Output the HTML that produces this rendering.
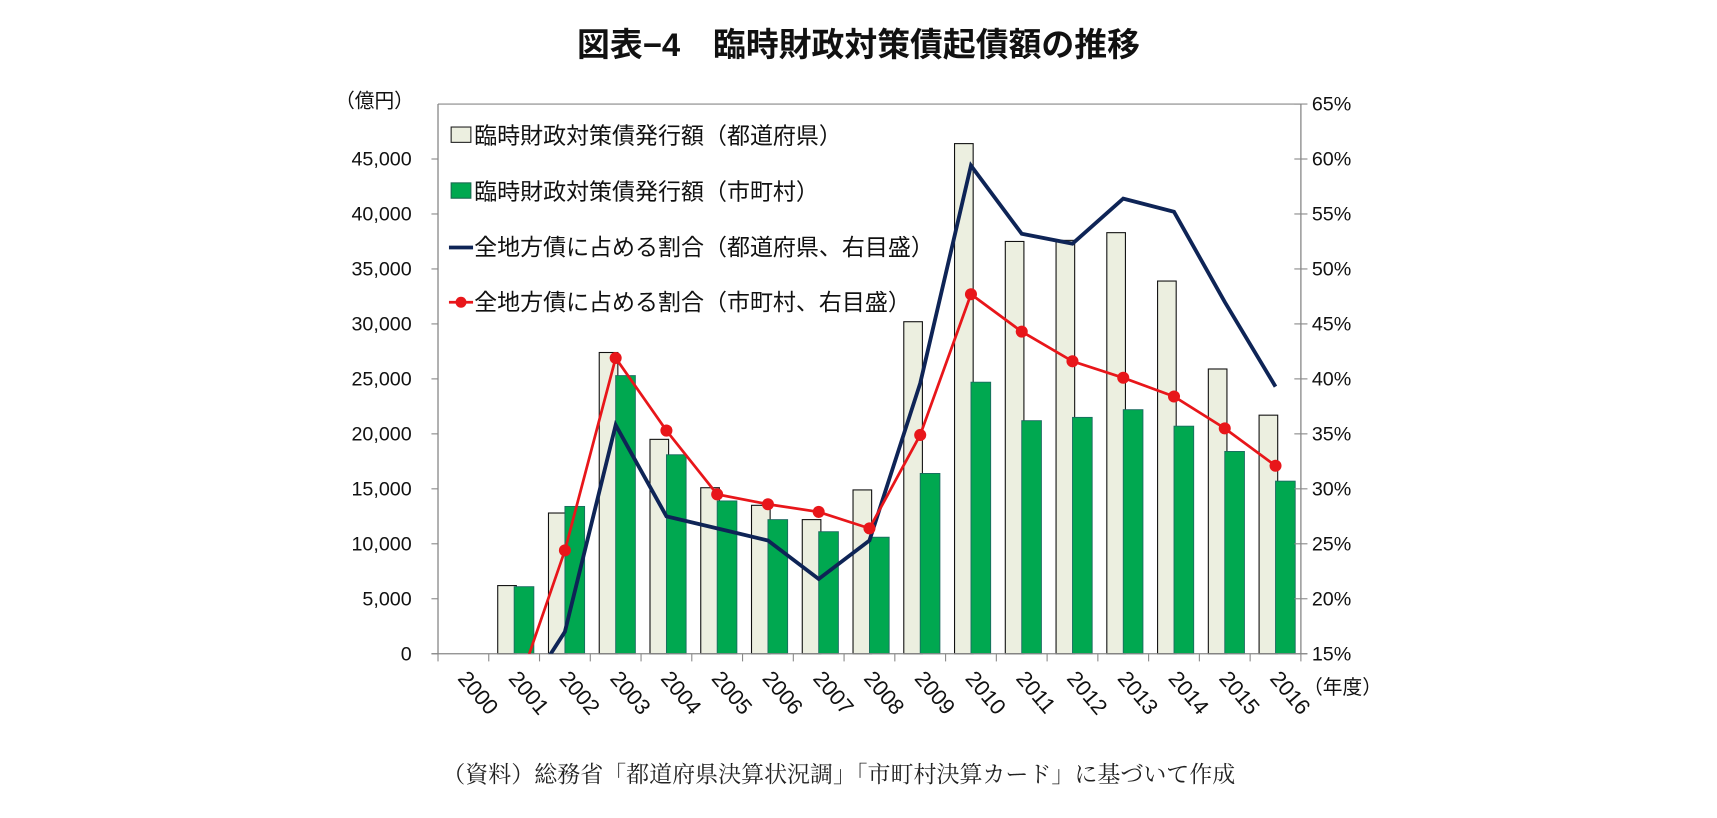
<!DOCTYPE html>
<html><head><meta charset="utf-8">
<style>
html,body{margin:0;padding:0;background:#fff;}
svg{display:block;font-family:"Liberation Sans","Noto Sans CJK JP",sans-serif;}
</style></head>
<body>
<svg id="chart" width="1717" height="818" viewBox="0 0 1568 747" xmlns="http://www.w3.org/2000/svg">
<text x="784" y="51" text-anchor="middle" font-size="30" font-weight="bold" fill="#111">図表−4　臨時財政対策債起債額の推移</text>
<text x="306" y="98" font-size="18" fill="#111">（億円）</text>
<text x="1190" y="634" font-size="18" fill="#111">（年度）</text>
<text x="766" y="714" text-anchor="middle" font-size="21" fill="#222" font-family="'Liberation Serif','Noto Serif CJK SC',serif">（資料）総務省「都道府県決算状況調」「市町村決算カード」に基づいて作成</text>
<g id="plot"></g>
<g font-size="21" fill="#111">
  <rect x="412" y="116" width="18" height="14" fill="#ecefe0" stroke="#222" stroke-width="1"/>
  <text x="433" y="131">臨時財政対策債発行額（都道府県）</text>
  <rect x="412" y="167" width="18" height="14" fill="#00a850" stroke="#1a6a50" stroke-width="1"/>
  <text x="433" y="182">臨時財政対策債発行額（市町村）</text>
  <line x1="410" y1="226" x2="432" y2="226" stroke="#0e2456" stroke-width="3.5"/>
  <text x="433" y="233">全地方債に占める割合（都道府県、右目盛）</text>
  <line x1="410" y1="276" x2="432" y2="276" stroke="#e8161a" stroke-width="2.5"/>
  <circle cx="421" cy="276" r="5" fill="#e8161a"/>
  <text x="433" y="283">全地方債に占める割合（市町村、右目盛）</text>
</g>
</svg>
<script>
const categories = ["2000","2001","2002","2003","2004","2005","2006","2007","2008","2009","2010","2011","2012","2013","2014","2015","2016"];
const prefAmount = [0,6200,12800,27400,19500,15100,13500,12200,14900,30200,46400,37500,37600,38300,33900,25900,21700];
const muniAmount = [0,6100,13400,25300,18100,13900,12200,11100,10600,16400,24700,21200,21500,22200,20700,18400,15700];
const prefShare = [null,9.8,17.0,35.8,27.5,26.4,25.3,21.8,25.3,39.6,59.4,53.2,52.3,56.4,55.2,47.0,39.3];
const muniShare = [null,11.0,24.4,41.9,35.3,29.5,28.6,27.9,26.4,34.9,47.7,44.3,41.6,40.1,38.4,35.5,32.1];
const leftTicks = [0,5000,10000,15000,20000,25000,30000,35000,40000,45000];
const rightTicks = [15,20,25,30,35,40,45,50,55,60,65];

const NS="http://www.w3.org/2000/svg";
const g=document.getElementById('plot');
const X0=400,X1=1188,Y0=597,YT=95;
const step=(X1-X0)/categories.length;
const cx=i=>X0+step*(i+0.5);
const yL=v=>Y0-(v/50000)*(Y0-YT);
const yR=p=>Y0-((p-15)/50)*(Y0-YT);
function el(t,a){const e=document.createElementNS(NS,t);for(const k in a)e.setAttribute(k,a[k]);g.appendChild(e);return e;}

const defs=el('defs',{});
const cp=document.createElementNS(NS,'clipPath');cp.setAttribute('id','clip');
const cr=document.createElementNS(NS,'rect');cr.setAttribute('x',X0);cr.setAttribute('y',YT);cr.setAttribute('width',X1-X0);cr.setAttribute('height',Y0-YT);
cp.appendChild(cr);defs.appendChild(cp);

let f=el('line',{x1:X0,y1:YT,x2:X1,y2:YT,stroke:'#888','stroke-width':1});



prefAmount.forEach((v,i)=>{
  if(!v)return;
  const r=el('rect',{x:cx(i)-15,y:yL(v),width:17,height:Y0-yL(v),fill:'#ecefe0',stroke:'#111','stroke-width':1});
  
  
});
muniAmount.forEach((v,i)=>{
  if(!v)return;
  const r=el('rect',{x:cx(i),y:yL(v),width:18,height:Y0-yL(v),fill:'#00a850',stroke:'#1a6a60','stroke-width':0.8});
  
  
});

let a=el('line',{x1:X0,y1:YT,x2:X0,y2:Y0,stroke:'#888','stroke-width':1.2});


a=el('line',{x1:X1,y1:YT,x2:X1,y2:Y0,stroke:'#888','stroke-width':1.2});


a=el('line',{x1:X0-6,y1:Y0,x2:X1+6,y2:Y0,stroke:'#888','stroke-width':1.2});



leftTicks.forEach(v=>{
  el('line',{x1:X0-6,y1:yL(v),x2:X0,y2:yL(v),stroke:'#888'});
  const t=el('text',{x:X0-24,y:yL(v)+6,'text-anchor':'end','font-size':18,fill:'#111'});
  t.textContent=v.toLocaleString('en-US');
  
  
});
rightTicks.forEach(p=>{
  el('line',{x1:X1-6,y1:yR(p),x2:X1+6,y2:yR(p),stroke:'#888'});
  const t=el('text',{x:X1+10,y:yR(p)+6,'font-size':18,fill:'#111'});
  t.textContent=p+'%';
  
  
});
for(let i=0;i<=categories.length;i++){
  el('line',{x1:X0+step*i,y1:Y0,x2:X0+step*i,y2:Y0+7,stroke:'#888'});
}
categories.forEach((c,i)=>{
  const x=cx(i)-6,y=620;
  const t=el('text',{x:x,y:y,'font-size':20,fill:'#111',transform:`rotate(50 ${x} ${y})`});
  t.textContent=c;
  
  
});

function pathOf(arr){let d='';arr.forEach((p,i)=>{if(p==null)return;d+=(d?'L':'M')+cx(i)+','+yR(p);});return d;}
let l=el('path',{d:pathOf(prefShare),fill:'none',stroke:'#0e2456','stroke-width':3.5,'clip-path':'url(#clip)'});


l=el('path',{d:pathOf(muniShare),fill:'none',stroke:'#e8161a','stroke-width':2.5,'clip-path':'url(#clip)'});


muniShare.forEach((p,i)=>{
  if(p==null||p<15)return;
  const c=el('circle',{cx:cx(i),cy:yR(p),r:5.5,fill:'#e8161a'});
  
  
});
</script>
</body></html>
